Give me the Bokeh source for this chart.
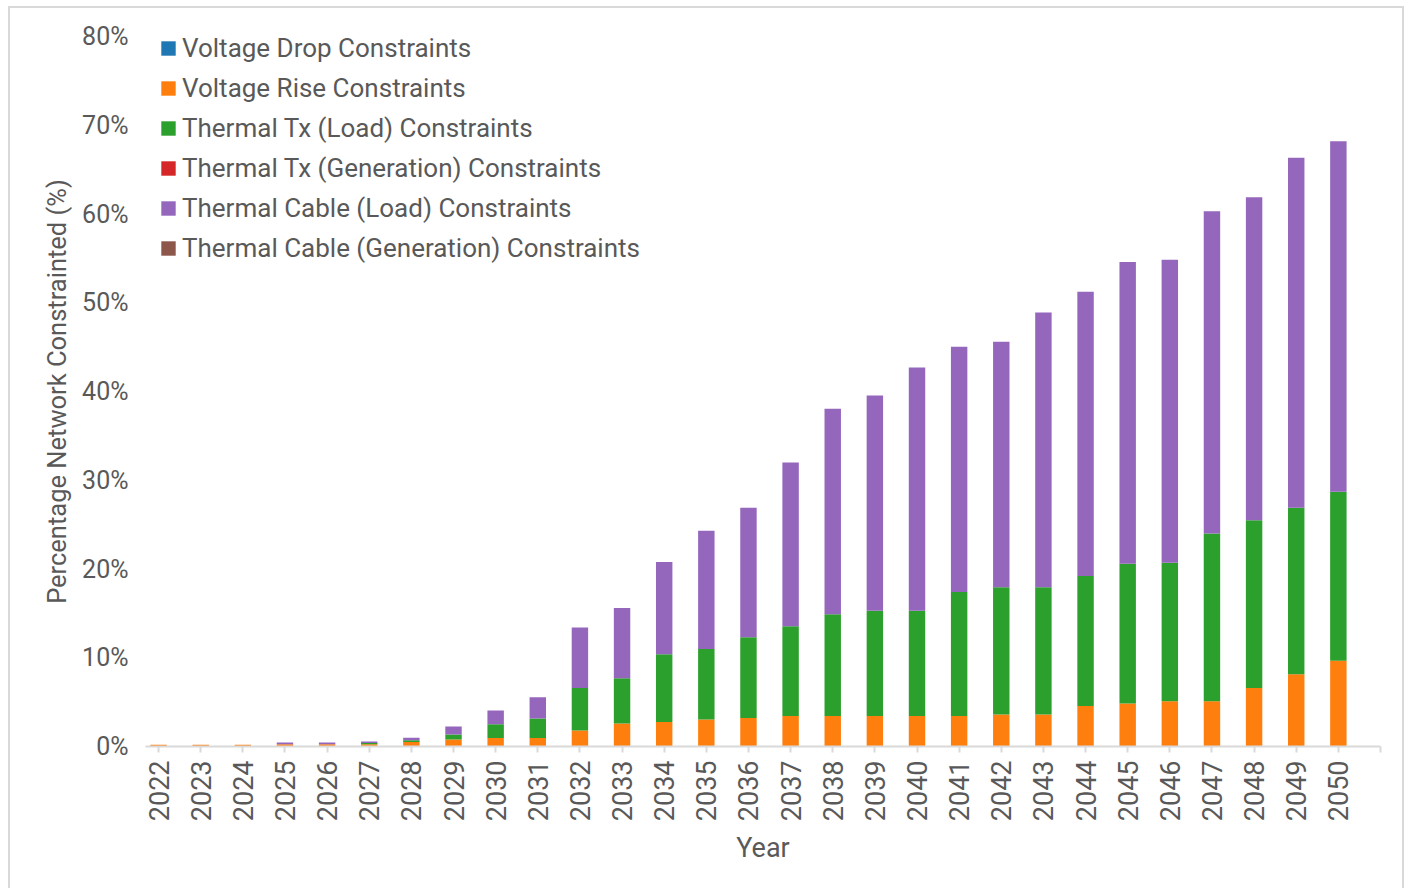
from bokeh.plotting import figure
from bokeh.models import FixedTicker, PrintfTickFormatter, ColumnDataSource
from bokeh.embed import file_html
from bokeh.resources import INLINE
import math

years = list(range(2022, 2051))
voltage_drop = [0.0] * 29
voltage_rise = [0.2, 0.2, 0.2, 0.25, 0.25, 0.25, 0.5, 0.8, 0.95, 0.95,
                1.8, 2.6, 2.75, 3.05, 3.2, 3.45, 3.45, 3.45, 3.45, 3.45,
                3.6, 3.6, 4.55, 4.85, 5.1, 5.1, 6.6, 8.15, 9.65]
thermal_tx_load = [0.0, 0.0, 0.0, 0.0, 0.0, 0.15, 0.2, 0.55, 1.55, 2.2,
                   4.8, 5.1, 7.65, 7.95, 9.1, 10.1, 11.45, 11.85, 11.85, 13.95,
                   14.35, 14.35, 14.65, 15.75, 15.6, 18.9, 18.9, 18.75, 19.05]
thermal_tx_gen = [0.0] * 29
thermal_cable_load = [0.0, 0.0, 0.0, 0.2, 0.2, 0.15, 0.3, 0.9, 1.55, 2.4,
                      6.8, 7.9, 10.4, 13.3, 14.6, 18.45, 23.15, 24.25, 27.4, 27.65,
                      27.65, 30.95, 32.05, 34.0, 34.15, 36.3, 36.4, 39.45, 39.5]
thermal_cable_gen = [0.0] * 29

series_names = ["Voltage Drop Constraints", "Voltage Rise Constraints",
                "Thermal Tx (Load) Constraints", "Thermal Tx (Generation) Constraints",
                "Thermal Cable (Load) Constraints", "Thermal Cable (Generation) Constraints"]
series_keys = ["drop", "rise", "txload", "txgen", "cableload", "cablegen"]
colors = ["#1f77b4", "#ff7f0e", "#2ca02c", "#d62728", "#9467bd", "#8c564b"]
y_ticks = [0, 10, 20, 30, 40, 50, 60, 70, 80]

source = ColumnDataSource(dict(year=years, drop=voltage_drop, rise=voltage_rise,
                               txload=thermal_tx_load, txgen=thermal_tx_gen,
                               cableload=thermal_cable_load, cablegen=thermal_cable_gen))

FONT = "Roboto"
TXT = "#595959"

p = figure(width=1396, height=882, output_backend="svg", toolbar_location=None,
           x_range=(2021.69, 2051.0), y_range=(0, 80),
           min_border_left=135, min_border_right=26, min_border_top=28, min_border_bottom=144)
p.styles = {"margin": "6px 0px 0px 8px",
            "border-left": "2px solid #d9d9d9",
            "border-top": "2px solid #d9d9d9",
            "border-right": "2px solid #d9d9d9"}

p.vbar_stack(series_keys, x="year", width=0.39, color=colors, line_color=None,
             source=source, legend_label=series_names)

p.xgrid.visible = False
p.ygrid.visible = False
p.outline_line_color = None

xa = p.xaxis[0]
xa.ticker = FixedTicker(ticks=years + [2051])
xa.major_label_overrides = {2051: ""}
xa.major_label_orientation = math.pi / 2
xa.axis_line_color = "#d9d9d9"
xa.axis_line_width = 2
xa.major_tick_line_color = "#d9d9d9"
xa.major_tick_line_width = 2
xa.major_tick_out = 6
xa.major_tick_in = 0
xa.minor_tick_line_color = None
xa.major_label_standoff = 8
xa.major_label_text_font = FONT
xa.major_label_text_font_size = "27px"
xa.major_label_text_color = TXT
xa.axis_label = "Year"
xa.axis_label_text_font = FONT
xa.axis_label_text_font_size = "27px"
xa.axis_label_text_font_style = "normal"
xa.axis_label_text_color = TXT
xa.axis_label_standoff = 8

ya = p.yaxis[0]
ya.ticker = FixedTicker(ticks=y_ticks)
ya.formatter = PrintfTickFormatter(format="%d%%")
ya.axis_line_color = None
ya.major_tick_line_color = None
ya.major_tick_out = 0
ya.major_tick_in = 0
ya.minor_tick_line_color = None
ya.minor_tick_out = 0
ya.major_label_standoff = 17
ya.major_label_text_font = FONT
ya.major_label_text_font_size = "25px"
ya.major_label_text_color = TXT
ya.axis_label = "Percentage Network Constrainted (%)"
ya.axis_label_text_font = FONT
ya.axis_label_text_font_size = "25.5px"
ya.axis_label_text_font_style = "normal"
ya.axis_label_text_color = TXT
ya.axis_label_standoff = 7

lg = p.legend[0]
lg.location = (14, 478)
lg.padding = 0
lg.margin = 0
lg.border_line_color = None
lg.background_fill_alpha = 0
lg.label_text_font = FONT
lg.label_text_font_size = "26px"
lg.label_text_color = TXT
lg.label_height = 40
lg.spacing = 0
lg.glyph_width = 18
lg.glyph_height = 18
lg.label_standoff = 5

open("out.html", "w").write(file_html(p, INLINE))
